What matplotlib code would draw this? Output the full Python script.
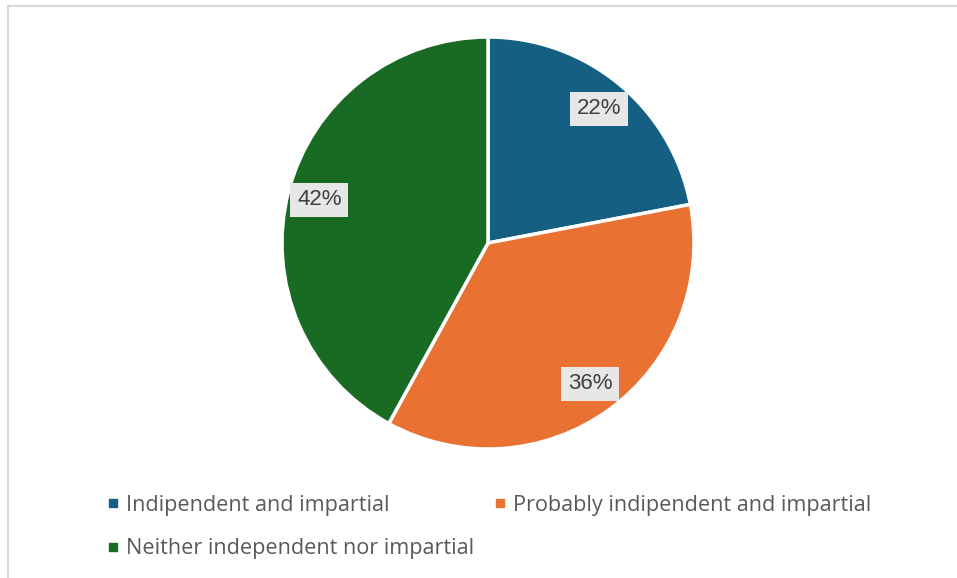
import matplotlib
matplotlib.use("Agg")
import matplotlib.pyplot as plt
from matplotlib.lines import Line2D
from matplotlib.patches import Rectangle

categories = ["Indipendent and impartial",
              "Probably indipendent and impartial",
              "Neither independent nor impartial"]
values = [22, 36, 42]
colors = ["#156082", "#E97132", "#196B24"]

W, H = 957, 578
fig = plt.figure(figsize=(W/100, H/100), dpi=100)
fig.patch.set_facecolor("white")

# frame
fig.patches.append(Rectangle((8/W, -0.1), 1.2, (H-6)/H + 0.1, transform=fig.transFigure,
                             fill=False, edgecolor="#d9d9d9", linewidth=1.5))

cx, cy, r = 488, 243, 206
ax = fig.add_axes([(cx - r)/W, (H - cy - r)/H, 2*r/W, 2*r/H])
wedges, texts, autotexts = ax.pie(
    values, colors=colors, startangle=90, counterclock=False,
    autopct="%d%%", pctdistance=0.845, radius=1,
    wedgeprops=dict(edgecolor="white", linewidth=2.5),
    textprops=dict(fontsize=16, color="#404040", family=["Liberation Sans", "DejaVu Sans"]))
for t in autotexts:
    t.set_bbox(dict(boxstyle="square,pad=0.3", facecolor="#e7e7e7", edgecolor="none"))
ax.set_xlim(-1, 1)
ax.set_ylim(-1, 1)
ax.set_aspect("equal")

order = [0, 2, 1]
handles = [Line2D([], [], marker="s", linestyle="none", markersize=6,
                  markerfacecolor=colors[i], markeredgecolor=colors[i]) for i in order]
labels = [categories[i] for i in order]
leg = fig.legend(handles, labels, ncol=2, loc="upper left",
                 bbox_to_anchor=(98/W, 1 - 486/H), frameon=False,
                 prop=dict(family=["Open Sans", "DejaVu Sans"], size=15.6),
                 labelcolor="#595959", handlelength=0.55, handletextpad=0.35,
                 columnspacing=0.9, labelspacing=1.05, borderaxespad=0)

fig.savefig("out.png", dpi=100)
